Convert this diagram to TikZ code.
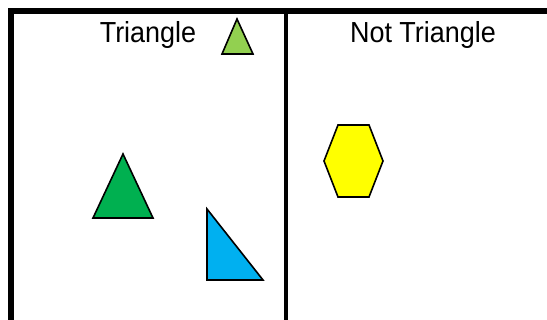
\documentclass[tikz,border=0pt]{standalone}
\usepackage{fontspec}
\setmainfont{Liberation Sans}
\definecolor{lgreen}{HTML}{92D050}
\definecolor{dgreen}{HTML}{00B050}
\definecolor{lblue}{HTML}{00B0F0}
\definecolor{yel}{HTML}{FFFF00}
\tikzset{
  frame/.style={line width=6pt, line cap=rect},
  divider/.style={line width=4pt},
  shp/.style={draw=black, line width=1.6pt, line join=miter},
  head/.style={font=\fontsize{29}{29}\selectfont, inner sep=0pt, anchor=base, xscale=0.93}
}
\begin{document}
\begin{tikzpicture}[x=1pt,y=-1pt]
\useasboundingbox (0,0) rectangle (547,320);
\fill[white] (0,0) rectangle (547,320);
% frame
\coordinate (tl) at (11,11);
\coordinate (tr) at (550,11);
\coordinate (bl) at (11,323);
\coordinate (mt) at (286,11);
\coordinate (mb) at (286,323);
\draw[frame] (bl) -- (tl) -- (tr);
\draw[divider] (mt) -- (mb);
% headings
\node[head] (h1) at (148,43) {Triangle};
\node[head] (h2) at (423,43) {Not Triangle};
% shapes
\draw[shp, fill=lgreen] (237,19) -- (253,54) -- (222,54) -- cycle;
\draw[shp, fill=dgreen] (123,154) -- (153,218) -- (93,218) -- cycle;
\draw[shp, fill=lblue] (207,209) -- (263,280) -- (207,280) -- cycle;
\draw[shp, fill=yel] (338,125) -- (369,125) -- (383,161) -- (369,197) -- (338,197) -- (324,161) -- cycle;
\end{tikzpicture}
\end{document}
